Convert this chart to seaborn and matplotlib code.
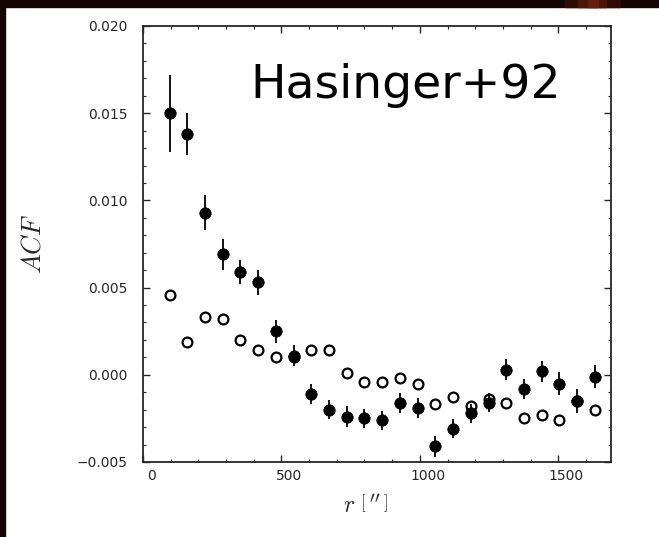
import numpy as np
import pandas as pd
import matplotlib
matplotlib.use("Agg")
import matplotlib.pyplot as plt
import matplotlib.transforms as mtransforms
from matplotlib.patches import Rectangle
import seaborn as sns

# separation bins (arcsec)
r_bins = [96, 160, 224, 288, 352, 416, 480, 544, 608, 672, 736, 800, 864,
          928, 992, 1056, 1120, 1184, 1248, 1312, 1376, 1440, 1504, 1568, 1632]

# filled points with error bars
acf_filled = [0.0150, 0.0138, 0.0093, 0.0069, 0.0059, 0.0053, 0.0025, 0.0011,
              -0.0011, -0.0020, -0.0024, -0.0025, -0.0026, -0.0016, -0.0019,
              -0.0041, -0.0031, -0.0022, -0.0016, 0.0003, -0.0008, 0.0002,
              -0.0005, -0.0015, -0.0001]
acf_err = [0.0022, 0.0012, 0.0010, 0.0009, 0.0007, 0.0007, 0.00065, 0.0006,
           0.0006, 0.00056, 0.0006, 0.00055, 0.00055, 0.00057, 0.00055,
           0.0006, 0.00054, 0.00055, 0.00055, 0.0006, 0.00057, 0.0006,
           0.00065, 0.00067, 0.00068]

# open points (no error bars)
acf_open = [0.0046, 0.0019, 0.0033, 0.0032, 0.0020, 0.0014, 0.0010, 0.0010,
            0.0014, 0.0014, 0.0001, -0.0004, -0.0004, -0.0002, -0.0005,
            -0.0017, -0.0013, -0.0018, -0.0014, -0.0016, -0.0025, -0.0023,
            -0.0026, -0.0015, -0.0020]

df = pd.DataFrame({"r": r_bins, "filled": acf_filled, "err": acf_err, "open": acf_open})

sns.set_style("ticks")
plt.rcParams['mathtext.fontset'] = 'cm'

fig = plt.figure(figsize=(6.59, 5.37), dpi=100)
fig.patch.set_facecolor("white")
ax = fig.add_axes([0.217, 0.1397, 0.71, 0.8119])

# dark scan border
fig.patches.append(Rectangle((0, 1 - 7/537), 1, 7/537, transform=fig.transFigure,
                             color="#140605", zorder=0))
fig.patches.append(Rectangle((0, 0), 5/659, 1, transform=fig.transFigure,
                             color="#140605", zorder=0))
for x0, w, c in [(565, 55, "#2e0c05"), (578, 28, "#4a1608"), (588, 10, "#62200c")]:
    fig.patches.append(Rectangle((x0/659, 1 - 7/537), w/659, 7/537,
                                 transform=fig.transFigure, color=c, zorder=1))

sns.scatterplot(data=df, x="r", y="open", ax=ax, marker="o", s=50,
                facecolor="white", edgecolor="black", linewidth=1.6, zorder=2)
ax.vlines(df["r"], df["filled"] - df["err"], df["filled"] + df["err"],
          color="black", linewidth=1.3, zorder=3)
sns.scatterplot(data=df, x="r", y="filled", ax=ax, marker="o", s=68,
                color="black", edgecolor="black", linewidth=0.5, zorder=4)

ax.set_xlim(0, 1690)
ax.set_ylim(-0.005, 0.020)
ax.set_xticks([0, 500, 1000, 1500])
ax.set_xticks(np.arange(0, 1690, 100), minor=True)
ax.set_yticks([-0.005, 0.000, 0.005, 0.010, 0.015, 0.020])
ax.set_yticklabels(["\u22120.005", "0.000", "0.005", "0.010", "0.015", "0.020"])
ax.set_yticks(np.arange(-0.005, 0.0201, 0.001), minor=True)
ax.tick_params(which="both", direction="in", top=True, right=True, labelsize=10)
ax.tick_params(which="major", length=5, width=1)
ax.tick_params(which="minor", length=2.5, width=0.8)
ax.tick_params(axis="y", pad=11)
ax.tick_params(axis="x", pad=5)
for lab in ax.get_xticklabels():
    lab.set_transform(lab.get_transform() + mtransforms.ScaledTranslation(0.08, 0, fig.dpi_scale_trans))
for sp in ax.spines.values():
    sp.set_linewidth(1.3)

ax.set_xlabel(r"$r\ \left[\,''\,\right]$", fontsize=17, labelpad=8)
ax.xaxis.label.set_x(0.475)
ax.set_ylabel(r"$ACF$", fontsize=19, labelpad=22)

ax.text(0.23, 0.915, "Hasinger+92", transform=ax.transAxes, fontsize=34,
        va="top", ha="left", color="black")

fig.savefig("out.png", dpi=100, facecolor=fig.get_facecolor())
